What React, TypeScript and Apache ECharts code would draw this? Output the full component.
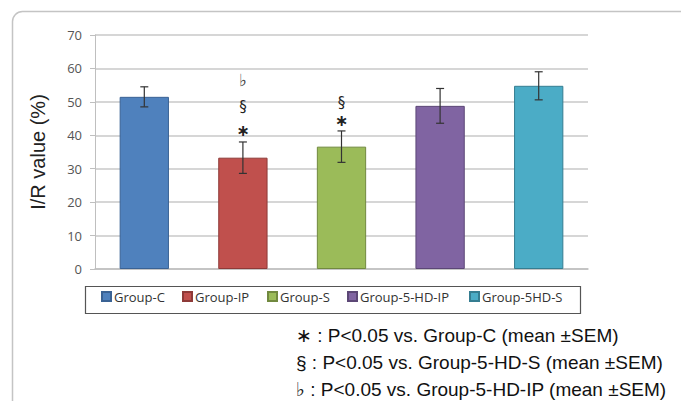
import React, { useEffect, useRef } from "react";
import * as echarts from "echarts";

const categories = ["Group-C", "Group-IP", "Group-S", "Group-5-HD-IP", "Group-5HD-S"];
const means = [51.5, 33.3, 36.6, 48.8, 54.8];
const sems = [3.0, 4.7, 4.7, 5.2, 4.2];
const colors = ["#4F81BD", "#C0504D", "#9BBB59", "#8064A2", "#4BACC6"];
const borders = ["#3A6294", "#8E3A38", "#71893F", "#5C4776", "#357D91"];
const yTicks = { min: 0, max: 70, interval: 10 };

const FLAT = "\u266D";
const SECT = "\u00A7";
const STAR = "\u2217";

// significance markers: [category index, y value, symbol]
const markIndex = [1, 1, 1, 2, 2];
const markY = [56.5, 48.5, 41.4, 49.8, 44.3];
const markText = [FLAT, SECT, STAR, SECT, STAR];

const footnotes = [
  STAR + " : P<0.05 vs. Group-C (mean \u00B1SEM)",
  SECT + " : P<0.05 vs. Group-5-HD-S (mean \u00B1SEM)",
  FLAT + " : P<0.05 vs. Group-5-HD-IP (mean \u00B1SEM)",
];

const legendLeft = [101, 182, 267, 347, 469];

export default function App() {
  const ref = useRef<HTMLDivElement>(null);
  useEffect(() => {
    if (!ref.current) return;
    const chart = echarts.init(ref.current, null, { renderer: "svg" });

    const barSeries = categories.map((name, i) => ({
      name,
      type: "bar",
      stack: "g",
      barWidth: "50%",
      data: categories.map((_, j) => (j === i ? means[i] : "-")),
      itemStyle: { color: colors[i], borderColor: borders[i], borderWidth: 1 },
      z: 2,
    }));

    const errData = means.map((m, i) => [i, m - sems[i], m + sems[i]]);
    const markData = markIndex.map((idx, i) => [idx, markY[i], markText[i]]);

    const option: any = {
      animation: false,
      backgroundColor: "#ffffff",
      grid: { left: 95, right: 93, top: 35, bottom: 132 },
      xAxis: {
        type: "category",
        data: categories,
        axisLabel: { show: false },
        axisTick: { show: false },
        axisLine: { show: true, lineStyle: { color: "#bfbfbf", width: 1.5 } },
      },
      yAxis: {
        type: "value",
        min: yTicks.min,
        max: yTicks.max,
        interval: yTicks.interval,
        name: "I/R value (%)",
        nameLocation: "middle",
        nameRotate: 90,
        nameGap: 47,
        nameTextStyle: { fontFamily: "Liberation Sans, Arial", fontSize: 20, color: "#222" },
        axisLabel: { fontFamily: "Open Sans", fontSize: 13, color: "#555", margin: 13 },
        axisLine: { show: true, lineStyle: { color: "#bfbfbf", width: 1 } },
        axisTick: { show: true, length: 5, lineStyle: { color: "#bfbfbf" } },
        splitLine: { lineStyle: { color: "#c8c8c8", width: 1.5 } },
      },
      legend: categories.map((name, i) => ({
        data: [name],
        left: legendLeft[i],
        top: 290,
        padding: 0,
        itemWidth: 9,
        itemHeight: 9,
        itemGap: 4,
        icon: "rect",
        textStyle: { fontFamily: "Open Sans", fontSize: 13, color: "#333", padding: [0, 0, 0, -2] },
      })),
      series: [
        ...barSeries,
        {
          type: "custom",
          name: "err",
          color: "#333",
          data: errData,
          encode: { x: 0, y: [1, 2] },
          z: 5,
          renderItem: (params: any, api: any) => {
            const x = api.value(0);
            const lo = api.coord([x, api.value(1)]);
            const hi = api.coord([x, api.value(2)]);
            const w = 4;
            const style = { stroke: "#333", lineWidth: 1.2 };
            return {
              type: "group",
              children: [
                { type: "line", shape: { x1: lo[0], y1: lo[1], x2: hi[0], y2: hi[1] }, style },
                { type: "line", shape: { x1: hi[0] - w, y1: hi[1], x2: hi[0] + w, y2: hi[1] }, style },
                { type: "line", shape: { x1: lo[0] - w, y1: lo[1], x2: lo[0] + w, y2: lo[1] }, style },
              ],
            };
          },
        },
        {
          type: "custom",
          name: "marks",
          color: "#333",
          itemStyle: { color: "#333" },
          data: markData,
          encode: { x: 0, y: 1 },
          z: 6,
          renderItem: (params: any, api: any) => {
            const p = api.coord([api.value(0), api.value(1)]);
            const t = markData[params.dataIndex][2] as string;
            const isStar = t === STAR;
            const isFlat = t === FLAT;
            return {
              type: "text",
              x: p[0],
              y: p[1],
              style: {
                text: t,
                fill: isFlat ? "#444" : "#222",
                font: isStar
                  ? "bold 16px DejaVu Sans"
                  : isFlat
                  ? "17px DejaVu Sans"
                  : "15px DejaVu Sans",
                align: "center",
                verticalAlign: "middle",
              },
            };
          },
        },
      ],
      graphic: [
        {
          type: "rect",
          left: 10,
          top: 9,
          shape: { width: 720, height: 430, r: 10 },
          style: { fill: "none", stroke: "#c4c4c4", lineWidth: 1.5 },
          silent: true,
          z: -10,
        },
        {
          type: "rect",
          left: 83,
          top: 284,
          shape: { width: 495, height: 27 },
          style: { fill: "none", stroke: "#555", lineWidth: 1.2 },
          silent: true,
        },
        ...footnotes.map((t, i) => ({
          type: "text",
          left: 296,
          top: 326 + i * 27,
          style: { text: t, font: "19px Liberation Sans, DejaVu Sans", fill: "#111" },
        })),
      ],
    };
    chart.setOption(option);
    return () => chart.dispose();
  }, []);
  return (
    <div
      ref={ref}
      style={{ position: "fixed", left: 0, top: 0, width: 681, height: 401 }}
    />
  );
}
